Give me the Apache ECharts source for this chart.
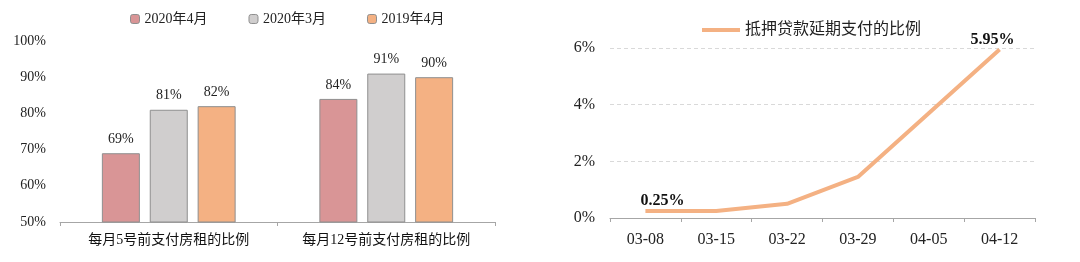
<!DOCTYPE html>
<html><head><meta charset="utf-8">
<script src="https://cdn.jsdelivr.net/npm/echarts@6/dist/echarts.min.js"></script>
<style>html,body{margin:0;padding:0;background:#fff}#c{width:1080px;height:262px}</style>
</head><body><div id="c"></div>
<script>
const barCategories = ['每月5号前支付房租的比例', '每月12号前支付房租的比例'];
const barSeriesNames = ['2020年4月', '2020年3月', '2019年4月'];
const barApr2020 = [69, 84];
const barMar2020 = [81, 91];
const barApr2019 = [82, 90];
const lineCategories = ['03-08', '03-15', '03-22', '03-29', '04-05', '04-12'];
const lineName = '抵押贷款延期支付的比例';
const lineValues = [0.25, 0.25, 0.5, 1.45, 3.7, 5.95];

const FONT = '"Liberation Serif", "Noto Sans CJK SC", serif';
const barColors = ['#D99596', '#D0CECE', '#F4B183'];
const chart = echarts.init(document.getElementById('c'), null, {renderer: 'canvas'});

function barSeries(name, data, color) {
  return {
    name, type: 'bar', xAxisIndex: 0, yAxisIndex: 0, data,
    barWidth: 38, barGap: '26%',
    itemStyle: {color, borderColor: '#8f8f8f', borderWidth: 1},
    label: {show: true, position: 'top', distance: 7, formatter: '{c}%', fontFamily: FONT, fontSize: 14, color: '#222'}
  };
}

const lineData = lineValues.map((v, i) => {
  if (i === 0) return {value: v, label: {show: true, offset: [17, 2]}};
  if (i === lineValues.length - 1) return {value: v, label: {show: true, offset: [-7, 2]}};
  return {value: v};
});

chart.setOption({
  animation: false,
  textStyle: {fontFamily: FONT},
  legend: [
    {data: barSeriesNames, left: 125, top: 7, itemWidth: 9, itemHeight: 9, itemGap: 41,
     textStyle: {fontFamily: FONT, fontSize: 14, color: '#222'},
     itemStyle: {borderColor: '#8f8f8f', borderWidth: 1}},
    {data: [lineName], left: 697, top: 17, icon: 'rect', itemWidth: 38, itemHeight: 4,
     textStyle: {fontFamily: FONT, fontSize: 16, color: '#222'}}
  ],
  grid: [
    {left: 60, right: 585, top: 41, bottom: 40},
    {left: 610, right: 45, top: 48, bottom: 44}
  ],
  xAxis: [
    {type: 'category', gridIndex: 0, data: barCategories,
     axisLine: {lineStyle: {color: '#a6a6a6'}}, axisTick: {show: true, length: 4, lineStyle: {color: '#a6a6a6'}},
     axisLabel: {interval: 0, fontFamily: FONT, fontSize: 14, color: '#111', margin: 11}},
    {type: 'category', gridIndex: 1, data: lineCategories, boundaryGap: true,
     axisLine: {lineStyle: {color: '#a6a6a6'}}, axisTick: {show: true, length: 4, lineStyle: {color: '#a6a6a6'}},
     axisLabel: {interval: 0, fontFamily: FONT, fontSize: 16, color: '#222', margin: 14}}
  ],
  yAxis: [
    {type: 'value', gridIndex: 0, min: 50, max: 100, interval: 10,
     axisLine: {show: false}, axisTick: {show: false}, splitLine: {show: false},
     axisLabel: {formatter: '{value}%', fontFamily: FONT, fontSize: 14, color: '#222', margin: 14}},
    {type: 'value', gridIndex: 1, min: 0, max: 6, interval: 2,
     axisLine: {show: false}, axisTick: {show: false},
     splitLine: {show: true, lineStyle: {color: '#d9d9d9', type: [4, 3]}},
     axisLabel: {formatter: '{value}%', fontFamily: FONT, fontSize: 16, color: '#222', margin: 15}}
  ],
  series: [
    barSeries(barSeriesNames[0], barApr2020, barColors[0]),
    barSeries(barSeriesNames[1], barMar2020, barColors[1]),
    barSeries(barSeriesNames[2], barApr2019, barColors[2]),
    {name: lineName, type: 'line', xAxisIndex: 1, yAxisIndex: 1, data: lineData,
     symbol: 'circle', symbolSize: 0.01, showSymbol: true,
     lineStyle: {color: '#F4B183', width: 4}, itemStyle: {color: '#F4B183'},
     label: {show: false, position: 'top', distance: 4, formatter: '{c}%', fontFamily: FONT, fontSize: 16, fontWeight: 'bold', color: '#111'}}
  ]
});
</script></body></html>
